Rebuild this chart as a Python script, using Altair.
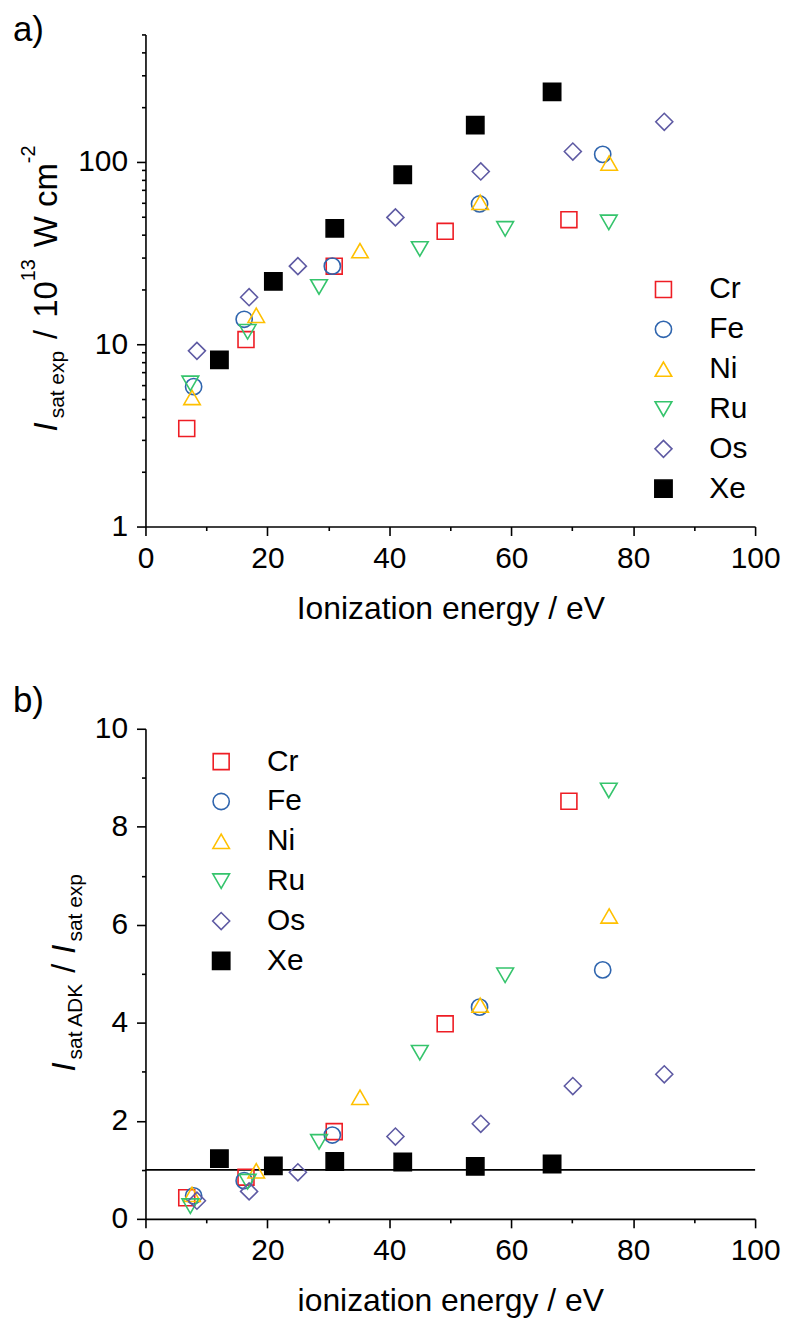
import altair as alt
import pandas as pd

FONT = "Liberation Sans"

# ---------------- data ----------------
series = ["Cr", "Fe", "Ni", "Ru", "Os", "Xe"]
colors = ["#EE1D24", "#2F65AE", "#FFC000", "#35C46C", "#5E5AA3", "#000000"]
fills = ["transparent", "transparent", "transparent", "transparent", "transparent", "#000000"]
shapes = ["square", "circle", "triangle-up", "triangle-down", "diamond", "square"]
sizes = [256, 300, 441, 441, 484, 256]

# ionization energies (eV)
cr_ie = [6.77, 16.49, 30.96, 49.16, 69.46]
fe_ie = [7.90, 16.19, 30.65, 54.8, 75.0]
ni_ie = [7.64, 18.17, 35.19, 54.9, 76.06]
ru_ie = [7.36, 16.76, 28.47, 45.0, 59.0, 76.0]
os_ie = [8.44, 17.0, 25.0, 41.0, 55.0, 70.1, 85.1]
xe_ie = [12.13, 20.98, 31.05, 42.2, 54.1, 66.7]

# panel a: I_sat exp / 1e13 W cm^-2
cr_isat = [3.45, 10.6, 26.8, 41.6, 48.2]
fe_isat = [5.85, 13.7, 26.8, 58.8, 110]
ni_isat = [5.1, 14.4, 32.6, 60.0, 98.5]
ru_isat = [6.1, 11.7, 20.6, 33.3, 42.9, 46.6]
os_isat = [9.2, 18.1, 26.8, 49.6, 88.6, 114, 166]
xe_isat = [8.2, 22.1, 43.2, 85.0, 159, 242]

# panel b: I_sat ADK / I_sat exp
cr_ratio = [0.43, 0.85, 1.78, 3.98, 8.52]
fe_ratio = [0.47, 0.78, 1.71, 4.32, 5.08]
ni_ratio = [0.50, 0.98, 2.48, 4.36, 6.18]
ru_ratio = [0.26, 0.76, 1.57, 3.39, 4.97, 8.74]
os_ratio = [0.37, 0.56, 0.95, 1.68, 1.94, 2.71, 2.95]
xe_ratio = [1.23, 1.08, 1.17, 1.16, 1.07, 1.12]

ref_line_y = [1.0]
ref_line_x = [0, 100]

x_major = [0, 20, 40, 60, 80, 100]
x_minor = [10, 30, 50, 70, 90]
ya_major = [1, 10, 100]
ya_minor = [2, 3, 4, 5, 6, 7, 8, 9, 20, 30, 40, 50, 60, 70, 80, 90, 200, 300, 400, 500]
yb_major = [0, 2, 4, 6, 8, 10]
yb_minor = [1, 3, 5, 7, 9]

ies = [cr_ie, fe_ie, ni_ie, ru_ie, os_ie, xe_ie]
isats = [cr_isat, fe_isat, ni_isat, ru_isat, os_isat, xe_isat]
ratios = [cr_ratio, fe_ratio, ni_ratio, ru_ratio, os_ratio, xe_ratio]


def long_df(vals):
    rows = []
    for s, xs, ys in zip(series, ies, vals):
        for xv, yv in zip(xs, ys):
            rows.append({"series": s, "ie": xv, "val": yv})
    return pd.DataFrame(rows)


df_a = long_df(isats)
df_b = long_df(ratios)
one = pd.DataFrame({"k": [0]})

# ---------------- helpers ----------------
WID = {' ': 278, '/': 278, '-': 333, '0': 556, '1': 556, '2': 556, '3': 556,
       'I': 278, 's': 500, 'a': 556, 't': 278, 'e': 556, 'x': 500, 'p': 556,
       'W': 944, 'c': 500, 'm': 833, 'A': 667, 'D': 722, 'K': 667}


def tw(s, size):
    return sum(WID.get(c, 556) for c in s) / 1000.0 * size


def vtitle(pieces, center_y, base_x):
    total = sum(tw(t, sz) + gap for t, sz, it, dx, gap in pieces)
    y = center_y + total / 2
    layers = []
    for t, sz, it, dx, gap in pieces:
        y -= gap
        layers.append(
            alt.Chart(one).mark_text(
                text=t, angle=270, align="left", baseline="alphabetic",
                font=FONT, fontSize=sz, fontStyle="italic" if it else "normal",
                color="black"
            ).encode(x=alt.value(base_x + dx), y=alt.value(y))
        )
        y -= tw(t, sz)
    return layers


def label(txt, x, y):
    return alt.Chart(one).mark_text(
        text=txt, align="left", baseline="alphabetic", font=FONT,
        fontSize=35, color="black"
    ).encode(x=alt.value(x), y=alt.value(y))


def legend(lx, ly):
    return alt.Legend(
        title=None, orient="none", legendX=lx, legendY=ly,
        labelFontSize=30, labelFont=FONT, labelColor="black",
        symbolStrokeWidth=1.6, rowPadding=10, labelOffset=31, padding=0,
    )


def major_axis(orient, values, title=None, fmt=None, pad=9, tpad=20):
    kw = dict(orient=orient, values=values, tickSize=9, tickWidth=1.6,
              tickColor="black", domainColor="black", domainWidth=1.6,
              labelFontSize=30, labelFont=FONT, labelColor="black",
              labelPadding=pad, labelFlush=False, labelOverlap=False,
              grid=False)
    if fmt:
        kw["format"] = fmt
    if title:
        kw.update(title=title, titleFontSize=32, titleFont=FONT,
                  titleFontWeight="normal", titleColor="black", titlePadding=tpad)
    else:
        kw["title"] = None
    return alt.Axis(**kw)


def minor_axis(orient, values):
    return alt.Axis(orient=orient, values=values, tickSize=4, tickWidth=1.6,
                    tickColor="black", labels=False, domain=False, grid=False,
                    title=None)


def panel(df, yscale, y_major, y_minor, yfmt, xtitle, leg_xy):
    xs = alt.Scale(domain=[0, 100], nice=False, zero=False)
    pts = alt.Chart(df).mark_point(opacity=1, strokeWidth=1.6).encode(
        x=alt.X("ie:Q", scale=xs, axis=major_axis("bottom", x_major, xtitle, pad=8)),
        y=alt.Y("val:Q", scale=yscale, axis=major_axis("left", y_major, None, yfmt)),
        color=alt.Color("series:N", scale=alt.Scale(domain=series, range=colors),
                        legend=legend(*leg_xy)),
        fill=alt.Fill("series:N", scale=alt.Scale(domain=series, range=fills),
                      legend=legend(*leg_xy)),
        shape=alt.Shape("series:N", scale=alt.Scale(domain=series, range=shapes),
                        legend=legend(*leg_xy)),
        size=alt.Size("series:N", scale=alt.Scale(domain=series, range=sizes),
                      legend=legend(*leg_xy)),
    )
    minor = alt.Chart(df).mark_point(opacity=0).encode(
        x=alt.X("ie:Q", scale=xs, axis=minor_axis("bottom", x_minor)),
        y=alt.Y("val:Q", scale=yscale, axis=minor_axis("left", y_minor)),
    )
    return pts, minor


# ---------------- panel a ----------------
W_A, H_A = 612, 494
pts_a, minor_a = panel(
    df_a, alt.Scale(type="log", domain=[1, 500], nice=False),
    ya_major, ya_minor, "d", "Ionization energy / eV", (505, 241))

title_a = vtitle([
    ("I", 33, True, 0, 0),
    ("sat exp", 21, False, 7, 4),
    ("/", 33, False, 0, 12),
    ("10", 33, False, 0, 12),
    ("13", 20, False, -22, 0),
    ("W cm", 33, False, 0, 12),
    ("-2", 20, False, -22, 0),
], center_y=255, base_x=-89)

panel_a = alt.layer(pts_a, minor_a, *title_a, label("a)", -133, 7)).resolve_axis(
    x="independent", y="independent").properties(width=W_A, height=H_A)

# ---------------- panel b ----------------
W_B, H_B = 612, 492
pts_b, minor_b = panel(
    df_b, alt.Scale(domain=[0, 10], nice=False),
    yb_major, yb_minor, "d", "ionization energy / eV", (61, 18))

ref = alt.Chart(pd.DataFrame({"x0": [ref_line_x[0]], "x1": [ref_line_x[1]],
                              "y": ref_line_y})).mark_rule(
    color="black", strokeWidth=1.6).encode(
    x=alt.X("x0:Q", axis=None), x2="x1:Q", y=alt.Y("y:Q", axis=None))

title_b = vtitle([
    ("I", 33, True, 0, 0),
    ("sat ADK", 21, False, 7, 3),
    ("/", 33, False, 0, 10),
    ("I", 33, True, 0, 10),
    ("sat exp", 21, False, 7, 3),
], center_y=245, base_x=-71)

panel_b = alt.layer(ref, pts_b, minor_b, *title_b, label("b)", -133, -17)).resolve_axis(
    x="independent", y="independent").properties(width=W_B, height=H_B)

chart = alt.vconcat(panel_a, panel_b, spacing=60).resolve_scale(
    color="independent", fill="independent", shape="independent", size="independent",
    x="independent", y="independent"
).resolve_legend(
    color="independent", fill="independent", shape="independent", size="independent"
).properties(
    padding={"left": 5, "top": 3, "right": 2, "bottom": 5}
).configure_view(stroke=None)

chart.save("out.html", embed_options={"renderer": "svg", "actions": False})
